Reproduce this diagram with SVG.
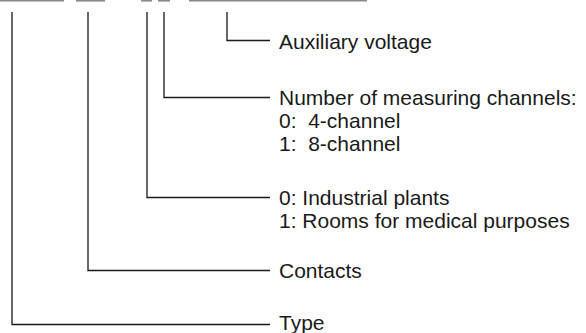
<svg xmlns="http://www.w3.org/2000/svg" width="586" height="333" viewBox="0 0 586 333">
<style>
.bar{stroke:#8a8a8a;stroke-width:1.6;fill:none}
.ln{stroke:#1a1a1a;stroke-width:1.3;fill:none}
text{font-family:"Liberation Sans",Arial,sans-serif;font-size:21px;fill:#1a1a1a;white-space:pre}
</style>
<rect width="586" height="333" fill="#ffffff"/>
<g id="code">
<line class="bar" x1="0" y1="0.8" x2="64" y2="0.8"/>
<line class="bar" x1="76" y1="0.8" x2="105" y2="0.8"/>
<line class="bar" x1="141" y1="0.8" x2="152" y2="0.8"/>
<line class="bar" x1="158" y1="0.8" x2="170" y2="0.8"/>
<line class="bar" x1="189" y1="0.8" x2="367" y2="0.8"/>
</g>
<g id="connectors">
<polyline class="ln" points="227,12 227,40.5 270,40.5"/>
<polyline class="ln" points="164,12 164,97.5 270,97.5"/>
<polyline class="ln" points="147,12 147,197.5 270,197.5"/>
<polyline class="ln" points="88,12 88,270.5 270,270.5"/>
<polyline class="ln" points="12,12 12,324.5 270,324.5"/>
</g>
<g id="aux"><text x="279" y="49">Auxiliary voltage</text></g>
<g id="channels">
<text x="279" y="105">Number of measuring channels:</text>
<text x="279" y="128">0:  4-channel</text>
<text x="279" y="151">1:  8-channel</text>
</g>
<g id="application">
<text x="279" y="205">0: Industrial plants</text>
<text x="279" y="228">1: Rooms for medical purposes</text>
</g>
<g id="contacts"><text x="279" y="278">Contacts</text></g>
<g id="type"><text x="279" y="330">Type</text></g>
</svg>
